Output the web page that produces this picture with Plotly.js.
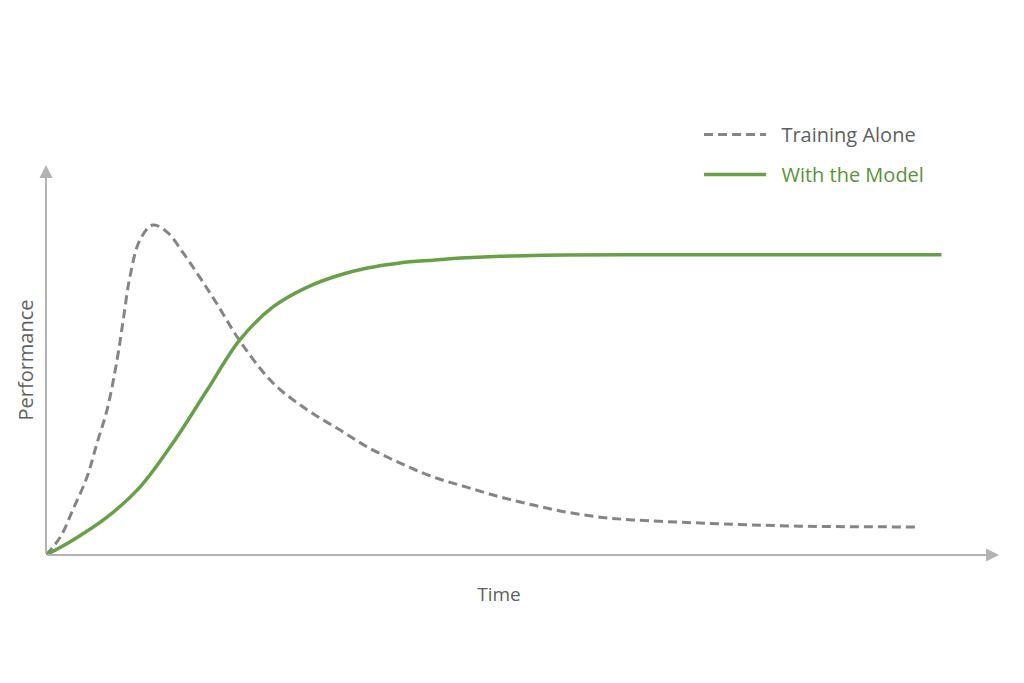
<!DOCTYPE html>
<html>
<head>
<meta charset="utf-8">
<script src="https://cdn.plot.ly/plotly-3.0.1.min.js"></script>
<style>
  html, body { margin: 0; padding: 0; background: #ffffff; }
  #chart { width: 1024px; height: 683px; }
</style>
</head>
<body>
<div id="chart"></div>
<script>
// Time axis (arbitrary units) and performance (0-100)
const trainingTime = [0, 1.5, 2.8, 4.3, 5.35, 6.4, 7.45, 8.1, 8.8, 9.85, 11.2, 12.7, 14.4, 16.1, 17.9, 20.3, 23.8, 27.4, 30.8, 33.7, 37.1, 40.6, 44.1, 47.6, 51.1, 54.6, 58.1, 61.5, 68.6, 79.0, 91.4];
const trainingPerf = [0, 4.6, 11.5, 20.0, 28.7, 37.2, 50.0, 60.3, 71.3, 80.8, 84.6, 82.8, 77.4, 71.3, 64.5, 55.0, 44.1, 37.2, 32.1, 27.7, 23.6, 20.0, 17.4, 14.9, 12.8, 11.0, 9.7, 9.0, 8.2, 7.4, 7.2];

const modelTime = [0, 2.8, 6.4, 9.85, 13.3, 16.9, 20.3, 23.8, 27.4, 30.8, 33.7, 37.1, 40.6, 44.1, 47.6, 51.1, 54.6, 63.3, 73.8, 84.3, 93.9];
const modelPerf = [0, 3.8, 9.7, 17.4, 28.7, 42.3, 55.1, 63.6, 68.7, 71.8, 73.6, 74.9, 75.6, 76.2, 76.6, 76.8, 76.9, 77.0, 77.0, 77.0, 77.0];

const seriesNames = ['Training Alone', 'With the Model'];
const axisTitles = { x: 'Time', y: 'Performance' };

const gray = '#858585';
const green = '#67a046';
const textGray = '#5f5f5f';
const textGreen = '#5a9338';
const axisGray = '#b3b3b3';

const traces = [
  {
    x: trainingTime, y: trainingPerf, type: 'scatter', mode: 'lines',
    name: '<span style="color:' + textGray + '">&nbsp;&nbsp;' + seriesNames[0] + '</span>',
    line: { color: gray, width: 3, dash: '9px,5px', shape: 'spline', smoothing: 1 },
    legendgroup: 'a', hoverinfo: 'skip'
  },
  {
    x: modelTime, y: modelPerf, type: 'scatter', mode: 'lines',
    name: '<span style="color:' + textGreen + '">&nbsp;&nbsp;' + seriesNames[1] + '</span>',
    line: { color: green, width: 3.5, shape: 'spline', smoothing: 1 },
    legendgroup: 'b', hoverinfo: 'skip'
  }
];

const layout = {
  width: 1024, height: 683,
  margin: { l: 46, r: 72, t: 165, b: 128 },
  paper_bgcolor: '#ffffff', plot_bgcolor: '#ffffff',
  font: { family: 'Open Sans, sans-serif', size: 19, color: textGray },
  showlegend: true,
  legend: {
    x: 0.7208, y: 1.128, xanchor: 'left', yanchor: 'top',
    traceorder: 'grouped', tracegroupgap: 11, itemwidth: 62,
    font: { family: 'Open Sans, sans-serif', size: 20, color: textGray },
    bgcolor: 'rgba(0,0,0,0)'
  },
  xaxis: {
    range: [0, 95], showgrid: false, zeroline: false, showline: false,
    showticklabels: false, ticks: '', fixedrange: true,
    title: { text: axisTitles.x, standoff: 32, font: { size: 19, color: textGray } }
  },
  yaxis: {
    range: [0, 100], showgrid: false, zeroline: false, showline: false,
    showticklabels: false, ticks: '', fixedrange: true,
    title: { text: axisTitles.y, standoff: 6, font: { size: 20, color: textGray } }
  },
  annotations: [
    { x: 1.0519, y: 0, xref: 'paper', yref: 'y', ax: -953, ay: 0, axref: 'pixel', ayref: 'pixel',
      text: '', showarrow: true, arrowhead: 2, arrowsize: 1.3, arrowwidth: 2, arrowcolor: axisGray, standoff: 0 },
    { x: 0, y: 100, ax: 0, ay: 0, xref: 'x', yref: 'y', axref: 'x', ayref: 'y',
      text: '', showarrow: true, arrowhead: 2, arrowsize: 1.3, arrowwidth: 2, arrowcolor: axisGray, standoff: 0 }
  ]
};

Plotly.newPlot('chart', traces, layout, { displayModeBar: false, staticPlot: true });
</script>
</body>
</html>
